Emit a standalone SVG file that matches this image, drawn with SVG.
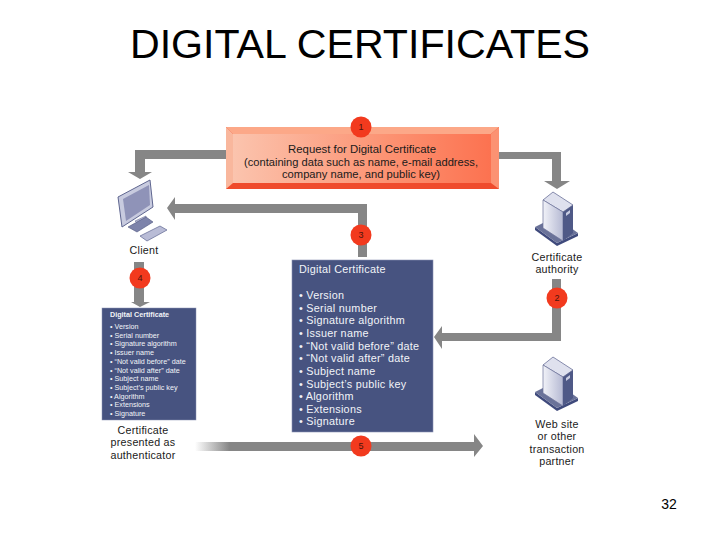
<svg xmlns="http://www.w3.org/2000/svg" width="720" height="540" viewBox="0 0 720 540">
<style>
text{font-family:"Liberation Sans",Arial,sans-serif;fill:#1a1a1a}
.lab{font-size:10.7px;text-anchor:middle;letter-spacing:.25px}
.title{font-size:40px;fill:#000}
.num{font-size:9px;text-anchor:middle;fill:#4a140c}
.badge{fill:#f23a1e}
.arrow{fill:#868686}
.big{font-size:10.8px;fill:#f2f3f8;letter-spacing:.27px}
.small{font-size:7.2px;fill:#f2f3f8}
.req{font-size:10.8px;text-anchor:middle}
</style>
<defs>
<linearGradient id="red" x1="0" x2="1" y1="0" y2="0"><stop offset="0" stop-color="#fbc4ae"/><stop offset="0.6" stop-color="#fc9272"/><stop offset="1" stop-color="#fc7250"/></linearGradient>
<linearGradient id="fade" x1="0" x2="1" y1="0" y2="0"><stop offset="0" stop-color="#868686" stop-opacity="0"/><stop offset="0.12" stop-color="#868686"/><stop offset="1" stop-color="#868686"/></linearGradient>
<linearGradient id="srv" x1="0" x2="1" y1="0" y2="0"><stop offset="0" stop-color="#f1f2f8"/><stop offset="1" stop-color="#b5b9d3"/></linearGradient>
<g id="server">
<path d="M-17 21 L5 37 L26 27 L26 30 L5 40 L-17 24Z" fill="#3f4a7c"/>
<path d="M-17 21 L-9 17 L19 22 L26 27 L5 37Z" fill="#6a7299"/>
<path d="M-9 -6 L1 -14 L21 -1 L11 6Z" fill="#dfe1ee" stroke="#59608c" stroke-width="0.7"/>
<path d="M-9 -6 L11 6 L11 35 L-9 22Z" fill="url(#srv)" stroke="#6b7198" stroke-width="0.7"/>
<path d="M11 6 L21 -1 L21 27 L11 35Z" fill="#4f5987"/>
<path d="M14 7 L18 4 L18 7 L14 10Z" fill="#c9cde2"/>
</g>
</defs>
<rect width="720" height="540" fill="#fff"/>
<text class="title" x="360" y="58" text-anchor="middle" textLength="460" lengthAdjust="spacingAndGlyphs">DIGITAL CERTIFICATES</text>

<g id="connectors">
<path class="arrow" d="M226 150H135V172H128L140 179L152 172H145V159H226Z"/>
<path class="arrow" d="M499 152H561V181H570L557 189L544 181H552V159H499Z"/>
<path class="arrow" d="M367 257V204H175V197L167 208L175 220V213H358V257Z"/>
<path class="arrow" d="M552 279H561V341H442V349L434 337L442 326V333H552Z"/>
<path class="arrow" d="M134 262H144V302H150L140 307L131 302H134Z"/>
<path d="M195 442H474V434L483 446L474 457V451H195Z" fill="url(#fade)"/>
</g>

<g id="request">
<rect x="226" y="127" width="273" height="62" fill="#ef4b2c"/>
<path d="M226 127H499L491 134H233Z" fill="#fca888"/>
<path d="M226 127L233 134V183L226 189Z" fill="#f9b79d"/>
<path d="M499 127L491 134V183L499 189Z" fill="#fc9272"/>
<rect x="233" y="134" width="258" height="49" fill="url(#red)"/>
<text class="req" x="362" y="153" textLength="148" lengthAdjust="spacingAndGlyphs">Request for Digital Certificate</text>
<text class="req" x="361" y="166" textLength="234" lengthAdjust="spacingAndGlyphs">(containing data such as name, e-mail address,</text>
<text class="req" x="361" y="178" textLength="158" lengthAdjust="spacingAndGlyphs">company name, and public key)</text>
</g>

<g id="client">
<path d="M118 197 L150 180 L153 207 L122 227Z" fill="#c8cbdf" stroke="#5f6690" stroke-width="1"/>
<path d="M123 199 L149 185 L150 205 L126 221Z" fill="#8f93b8"/>
<path d="M135 221 L146 216 L146 224 L140 226Z" fill="#b8bbd4" stroke="#6b7198" stroke-width="0.6"/>
<path d="M128 227 L146 217 L153 222 L137 232Z" fill="#7d83aa" stroke="#4f5680" stroke-width="0.6"/>
<path d="M140 236 L160 226 L167 230 L147 241Z" fill="#b9bcd6" stroke="#5f6690" stroke-width="0.7"/>
<text class="lab" x="144" y="254">Client</text>
</g>
<g id="ca">
<use href="#server" x="552" y="206"/>
<text class="lab" x="557" y="261">Certificate</text>
<text class="lab" x="557" y="273">authority</text>
</g>
<g id="partner">
<use href="#server" x="552" y="371"/>
<text class="lab" x="557" y="428">Web site</text>
<text class="lab" x="557" y="440">or other</text>
<text class="lab" x="557" y="453">transaction</text>
<text class="lab" x="557" y="465">partner</text>
</g>

<g id="certificate">
<rect x="292" y="260" width="141" height="172" fill="#475380" stroke="#8a92b2" stroke-width="0.6"/>
<text class="big" x="299" y="273">Digital Certificate</text>
<text class="big" x="299" y="299">• Version</text>
<text class="big" x="299" y="312">• Serial number</text>
<text class="big" x="299" y="324">• Signature algorithm</text>
<text class="big" x="299" y="337">• Issuer name</text>
<text class="big" x="299" y="350">• “Not valid before” date</text>
<text class="big" x="299" y="362">• “Not valid after” date</text>
<text class="big" x="299" y="375">• Subject name</text>
<text class="big" x="299" y="388">• Subject’s public key</text>
<text class="big" x="299" y="400">• Algorithm</text>
<text class="big" x="299" y="413">• Extensions</text>
<text class="big" x="299" y="425">• Signature</text>
</g>

<g id="small-certificate">
<rect x="102" y="308" width="94" height="112" fill="#475380" stroke="#8a92b2" stroke-width="0.5"/>
<text class="small" x="110" y="317" font-weight="bold">Digital Certificate</text>
<text class="small" x="110" y="329">• Version</text>
<text class="small" x="110" y="338">• Serial number</text>
<text class="small" x="110" y="346">• Signature algorithm</text>
<text class="small" x="110" y="355">• Issuer name</text>
<text class="small" x="110" y="364">• “Not valid before” date</text>
<text class="small" x="110" y="373">• “Not valid after” date</text>
<text class="small" x="110" y="381">• Subject name</text>
<text class="small" x="110" y="390">• Subject’s public key</text>
<text class="small" x="110" y="399">• Algorithm</text>
<text class="small" x="110" y="407">• Extensions</text>
<text class="small" x="110" y="416">• Signature</text>
</g>
<g id="presented">
<text class="lab" x="143" y="434">Certificate</text>
<text class="lab" x="143" y="446">presented as</text>
<text class="lab" x="143" y="459">authenticator</text>
</g>

<g id="badge-1"><circle class="badge" cx="361" cy="127" r="10.5"/><text class="num" x="361" y="130">1</text></g>
<g id="badge-2"><circle class="badge" cx="557" cy="298" r="10.5"/><text class="num" x="557" y="301">2</text></g>
<g id="badge-3"><circle class="badge" cx="361" cy="235" r="10.5"/><text class="num" x="361" y="238">3</text></g>
<g id="badge-4"><circle class="badge" cx="140" cy="278" r="10.5"/><text class="num" x="140" y="281">4</text></g>
<g id="badge-5"><circle class="badge" cx="361" cy="446" r="10.5"/><text class="num" x="361" y="449">5</text></g>

<text x="669" y="509" text-anchor="middle" style="font-size:14px;fill:#000">32</text>
</svg>
